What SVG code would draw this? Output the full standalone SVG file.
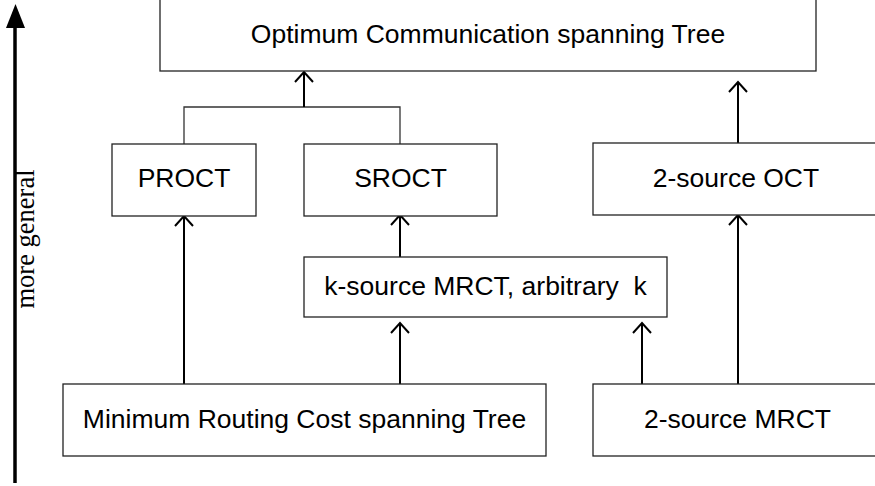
<svg xmlns="http://www.w3.org/2000/svg" width="875" height="486" viewBox="0 0 875 486">
<defs>
<style>
.box{fill:#fff;stroke:#222;stroke-width:1.3}
.lbl{font-family:"Liberation Sans",Arial,sans-serif;font-size:26.5px;fill:#000;text-anchor:middle}
.arr{fill:none;stroke:#000;stroke-width:2}
.fork{fill:none;stroke:#333;stroke-width:1.3}
.axis{font-family:"Liberation Serif","Times New Roman",serif;font-size:26.5px;fill:#000;text-anchor:middle}
</style>
<marker id="v" markerWidth="14" markerHeight="22" refX="11" refY="11" orient="auto" markerUnits="userSpaceOnUse" viewBox="0 0 14 22">
<path d="M1,2 L11,11 L1,20" fill="none" stroke="#000" stroke-width="2"/>
</marker>
</defs>
<rect width="875" height="486" fill="#fff"/>

<g id="axis">
<line x1="15" y1="483" x2="15" y2="26" stroke="#000" stroke-width="3.5"/>
<polygon points="15.5,4 6,28 25,28" fill="#000"/>
<text class="axis" transform="translate(34,239) rotate(-90)">more general</text>
</g>

<g id="connectors">
<path class="fork" d="M184,144 V107 H400 V144"/>
<line class="arr" x1="304" y1="107" x2="304" y2="72" marker-end="url(#v)"/>
<line class="arr" x1="738" y1="143" x2="738" y2="82" marker-end="url(#v)"/>
<line class="arr" x1="184" y1="384" x2="184" y2="216" marker-end="url(#v)"/>
<line class="arr" x1="400" y1="257" x2="400" y2="215" marker-end="url(#v)"/>
<line class="arr" x1="400" y1="384" x2="400" y2="323" marker-end="url(#v)"/>
<line class="arr" x1="642" y1="384" x2="642" y2="323" marker-end="url(#v)"/>
<line class="arr" x1="738" y1="384" x2="738" y2="215" marker-end="url(#v)"/>
</g>

<g id="oct">
<rect class="box" x="160" y="-3" width="656" height="74"/>
<text class="lbl" x="488" y="43">Optimum Communication spanning Tree</text>
</g>
<g id="proct">
<rect class="box" x="112" y="144" width="144" height="72"/>
<text class="lbl" x="184" y="187">PROCT</text>
</g>
<g id="sroct">
<rect class="box" x="304" y="144" width="193" height="72"/>
<text class="lbl" x="400.5" y="187">SROCT</text>
</g>
<g id="oct2">
<rect class="box" x="593" y="143" width="290" height="72"/>
<text class="lbl" x="736" y="187">2-source OCT</text>
</g>
<g id="kmrct">
<rect class="box" x="304" y="257" width="363" height="60"/>
<text class="lbl" x="485.5" y="295" xml:space="preserve">k-source MRCT, arbitrary  k</text>
</g>
<g id="mrct">
<rect class="box" x="63" y="384" width="483" height="72"/>
<text class="lbl" x="304.5" y="428">Minimum Routing Cost spanning Tree</text>
</g>
<g id="mrct2">
<rect class="box" x="593" y="384" width="290" height="72"/>
<text class="lbl" x="737.5" y="428">2-source MRCT</text>
</g>
</svg>
